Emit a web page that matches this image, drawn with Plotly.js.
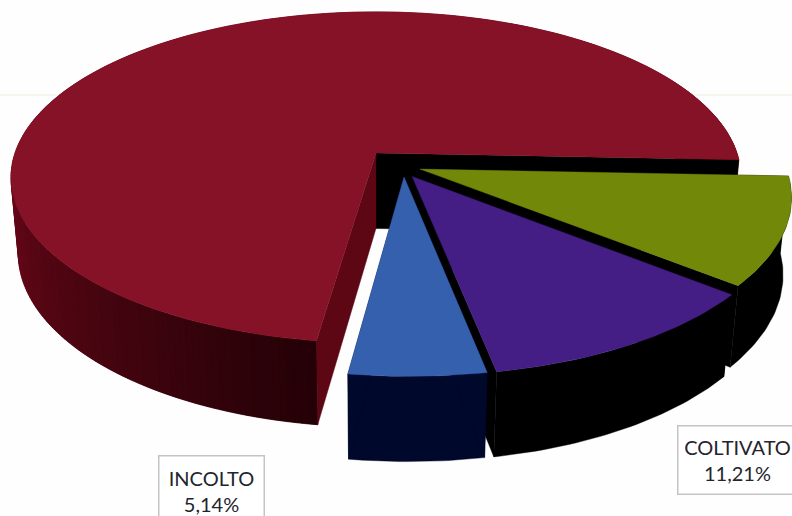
<!DOCTYPE html>
<html>
<head>
<meta charset="utf-8">
<script src="https://cdn.plot.ly/plotly-3.0.1.min.js"></script>
<style>html,body{margin:0;padding:0;background:#fefefe;overflow:hidden}</style>
</head>
<body>
<div id="chart" style="width:792px;height:516px"></div>
<script>
// Land-use shares, listed clockwise starting from the front of the pie
const categories = ['INCOLTO', 'COLTIVATO', 'verde', 'rosso'];
const shares = [5.14, 11.21, 10.25, 73.40];
const labelled = ['INCOLTO', 'COLTIVATO'];

// Slice styling
const topColors = ['#3560ad', '#441d85', '#728809', '#861228'];
const sideColors = ['#00082c', '#000000', '#000000', '#000000'];
const explodeU = [0.076, 0.098, 0.120, 0];
const explodeV = [0.145, 0.142, 0.098, 0];

// Perspective camera for the tilted disc
const cam = {x0: 376, y0: 153, A: 361, B: 162, D: 77, k: 0.148, m: 0.02};
const firstAngle = -8.1;

function project(u, v, z) {
  const w = 1 - cam.k * v + cam.m * z;
  return [cam.x0 + cam.A * u / w, cam.y0 + (cam.B * v + cam.D * z) / w];
}
const rad = d => d * Math.PI / 180;
function rim(phi, i, z) {
  return project(explodeU[i] + Math.sin(rad(phi)), explodeV[i] + Math.cos(rad(phi)), z);
}
function apex(i, z) { return project(explodeU[i], explodeV[i], z); }

function poly(pts, color) {
  return {
    type: 'scatter', mode: 'lines', fill: 'toself', fillcolor: color,
    x: pts.map(p => p[0]).concat([pts[0][0]]),
    y: pts.map(p => p[1]).concat([pts[0][1]]),
    line: {color: color, width: 0.4},
    hoverinfo: 'skip', showlegend: false
  };
}
function mix(a, b, t) {
  return 'rgb(' + a.map((c, j) => Math.round(c + (b[j] - c) * t)).join(',') + ')';
}

// Angular extent of each slice
const spans = [];
let cursor = firstAngle;
shares.forEach(s => { spans.push([cursor, cursor + s * 3.6]); cursor += s * 3.6; });

// The big slice's wall fades from lit on the left to dark at the front
function redWall(phi) {
  const t = Math.min(1, Math.max(0, (phi - 268) / 84));
  return mix([116, 10, 28], [36, 1, 7], t);
}

function arc(i, from, to, z) {
  const pts = [];
  const n = Math.max(1, Math.ceil(Math.abs(to - from)));
  for (let s = 0; s <= n; s++) pts.push(rim(from + (to - from) * s / n, i, z));
  return pts;
}

function sliceTraces(i) {
  const [a0, a1] = spans[i];
  const out = [];
  if (i === 3) {
    // Each wall piece runs on past its end so the next one overlaps it without a seam
    const step = 1;
    for (let p = a0; p < a1; p += step) {
      const q = Math.min(a1, p + step + 1);
      out.push(poly(arc(i, p, q, 0).concat(arc(i, q, p, 1)), redWall(p + step / 2)));
    }
  } else {
    out.push(poly(arc(i, a0, a1, 0).concat(arc(i, a1, a0, 1)), sideColors[i]));
  }
  const cut = (phi, color) => poly([apex(i, 0), rim(phi, i, 0), rim(phi, i, 1), apex(i, 1)], color);
  out.push(cut(a0, sideColors[i]));
  out.push(cut(a1, i === 3 ? '#5c0713' : sideColors[i]));
  out.push(poly([apex(i, 0)].concat(arc(i, a0, a1, 0)), topColors[i]));
  return out;
}

// Far slices first so nearer ones overlap them
const traces = [];
[3, 2, 1, 0].forEach(i => traces.push(...sliceTraces(i)));

function labelText(name) {
  const v = shares[categories.indexOf(name)];
  return name + '<br>' + v.toFixed(2).replace('.', ',') + '%';
}
function box(name, x, y, width, height) {
  return {
    xref: 'x', yref: 'y', x: x, y: y, xanchor: 'left', yanchor: 'top',
    text: labelText(name), showarrow: false, align: 'center',
    width: width, height: height, valign: 'middle',
    bgcolor: '#ffffff', bordercolor: '#c4c4c4', borderwidth: 1.5, borderpad: 0,
    font: {family: 'Lato, Carlito, sans-serif', size: 20, color: '#24242c'}
  };
}

const layout = {
  width: 792, height: 516,
  margin: {l: 0, r: 0, t: 0, b: 0},
  paper_bgcolor: '#fefefe', plot_bgcolor: '#fefefe',
  showlegend: false,
  xaxis: {range: [0, 792], visible: false, fixedrange: true},
  yaxis: {range: [516, 0], visible: false, fixedrange: true},
  annotations: [
    box(labelled[0], 158, 455, 104, 68),
    box(labelled[1], 677, 425, 118, 67)
  ],
  shapes: [
    {type: 'line', layer: 'below', xref: 'x', yref: 'y', x0: 0, x1: 792, y0: 95, y1: 95,
     line: {color: '#f1ece0', width: 1}}
  ]
};

Plotly.newPlot('chart', traces, layout, {displayModeBar: false, staticPlot: true});
</script>
</body>
</html>
